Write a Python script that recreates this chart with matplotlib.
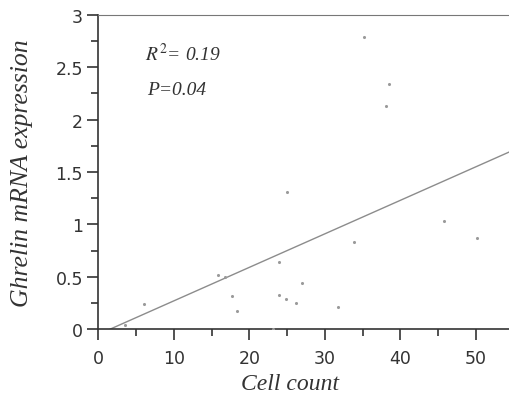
import matplotlib
matplotlib.use("Agg")
import matplotlib.pyplot as plt
from matplotlib.ticker import MultipleLocator

plt.rcParams["mathtext.fontset"] = "stix"

cell_count = [35.2, 38.5, 38.1, 25.0, 45.8, 50.2, 33.9, 24.0, 15.9, 16.8, 27.0,
              17.7, 23.9, 24.8, 26.2, 6.1, 31.7, 18.4, 3.6, 23.2]
ghrelin = [2.79, 2.34, 2.13, 1.31, 1.03, 0.87, 0.83, 0.64, 0.52, 0.50, 0.44,
           0.32, 0.33, 0.29, 0.25, 0.24, 0.21, 0.17, 0.04, 0.00]
fit_slope = 0.032
fit_intercept = -0.051
fit_x = [1.6, 55]
annot = ["$R^2$= 0.19", "P=0.04"]

fig = plt.figure(figsize=(5.09, 4.06), dpi=100)
ax = fig.add_axes([0.193, 0.187, 0.816, 0.774])
ax.scatter(cell_count, ghrelin, s=5, color="#9a9a9a", zorder=3, linewidths=0)
ax.plot(fit_x, [fit_slope * x + fit_intercept for x in fit_x], color="#8c8c8c", lw=1.0)
ax.set_xlim(0, 55)
ax.set_ylim(0, 3)
ax.xaxis.set_major_locator(MultipleLocator(10))
ax.xaxis.set_minor_locator(MultipleLocator(5))
ax.yaxis.set_minor_locator(MultipleLocator(0.25))
ax.set_yticks([0, 0.5, 1, 1.5, 2, 2.5, 3])
ax.set_yticklabels(["0", "0.5", "1", "1.5", "2", "2.5", "3"])
for s in ["left", "bottom"]:
    ax.spines[s].set_color("#333333")
    ax.spines[s].set_linewidth(1.2)
ax.spines["top"].set_color("#777777")
ax.spines["right"].set_visible(False)
ax.tick_params(which="major", direction="out", length=8, width=1.2, color="#333333",
               labelsize=12.5, labelcolor="#333333")
ax.tick_params(axis="x", which="major", pad=6)
ax.tick_params(axis="y", which="major", pad=3)
ax.tick_params(which="minor", direction="out", length=5, width=1.2, color="#333333")
serif = ["Liberation Serif", "DejaVu Serif"]
ax.set_xlabel("Cell count", fontsize=17, style="italic", family=serif, color="#333333")
ax.set_ylabel("Ghrelin mRNA expression", fontsize=18.5, style="italic", family=serif, color="#333333")
ax.xaxis.set_label_coords(0.463, -0.14)
ax.yaxis.set_label_coords(-0.158, 0.5)
ax.text(6.2, 2.57, annot[0], fontsize=14, style="italic", family=serif, color="#333333")
ax.text(6.5, 2.245, annot[1], fontsize=14, style="italic", family=serif, color="#333333")
fig.savefig("out.png", dpi=100)
